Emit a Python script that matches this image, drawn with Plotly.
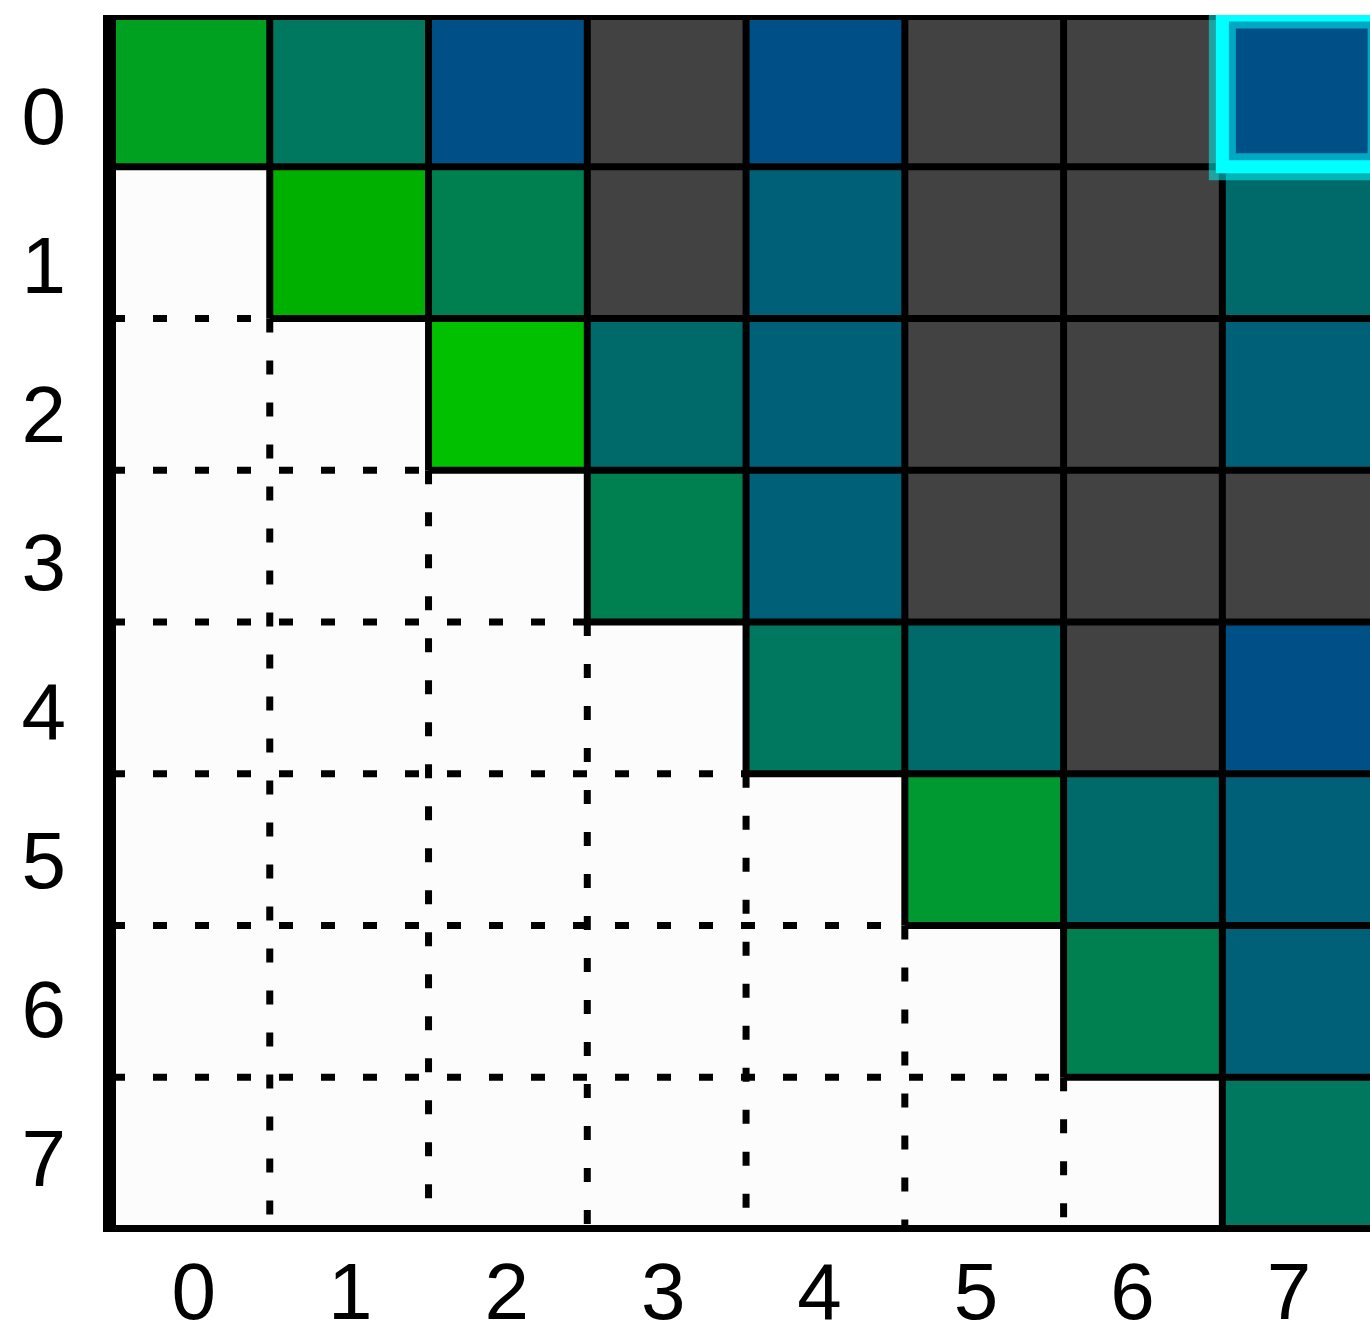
import plotly.graph_objects as go

# ---- data ----
n = 8
row_labels = ["0", "1", "2", "3", "4", "5", "6", "7"]
col_labels = ["0", "1", "2", "3", "4", "5", "6", "7"]

# score per cell (upper triangle); None = lower triangle / masked
scores = [
    [0.25, 0.60, 1.00, None, 1.00, None, None, 1.00],
    [None, 0.10, 0.50, None, 0.85, None, None, 0.75],
    [None, None, 0.00, 0.75, 0.85, None, None, 0.85],
    [None, None, None, 0.50, 0.85, None, None, None],
    [None, None, None, None, 0.60, 0.75, None, 1.00],
    [None, None, None, None, None, 0.32, 0.75, 0.85],
    [None, None, None, None, None, None, 0.50, 0.85],
    [None, None, None, None, None, None, None, 0.60],
]
# masked (dark gray) cells
masked = [
    [0, 0, 0, 1, 0, 1, 1, 0],
    [0, 0, 0, 1, 0, 1, 1, 0],
    [0, 0, 0, 0, 0, 1, 1, 0],
    [0, 0, 0, 0, 0, 1, 1, 1],
    [0, 0, 0, 0, 0, 0, 1, 0],
    [0, 0, 0, 0, 0, 0, 0, 0],
    [0, 0, 0, 0, 0, 0, 0, 0],
    [0, 0, 0, 0, 0, 0, 0, 0],
]
highlight_cell = (0, 7)  # (row, col)

colorscale = [
    [0.00, "#00c000"],
    [0.10, "#00b000"],
    [0.25, "#00a020"],
    [0.32, "#009830"],
    [0.50, "#008050"],
    [0.60, "#007860"],
    [0.75, "#006a6a"],
    [0.85, "#006078"],
    [1.00, "#005088"],
]

xs = list(range(n))
ys = list(range(n))

fig = go.Figure()
fig.add_trace(go.Heatmap(
    z=scores, x=xs, y=ys, colorscale=colorscale, zmin=0, zmax=1,
    showscale=False, hoverongaps=False,
))
mask_z = [[1 if m else None for m in row] for row in masked]
fig.add_trace(go.Heatmap(
    z=mask_z, x=xs, y=ys, colorscale=[[0, "#424242"], [1, "#424242"]],
    showscale=False, hoverongaps=False,
))
# carrier for the tick-label axes
fig.add_trace(go.Scatter(x=[], y=[], xaxis="x2", yaxis="y2",
                         showlegend=False, hoverinfo="skip"))

shapes = []
solid = dict(color="black", width=7)
dashed = dict(color="black", width=7, dash="14px,28px")
# vertical boundaries between column j and j+1
for j in range(n - 1):
    xb = j + 0.5
    shapes.append(dict(type="line", xref="x", yref="y", x0=xb, x1=xb,
                       y0=-0.5, y1=min(j + 1.5, n - 0.5), line=solid))
    if j + 1.5 < n - 0.5:
        shapes.append(dict(type="line", xref="x", yref="y", x0=xb, x1=xb,
                           y0=j + 1.5, y1=n - 0.5, line=dashed))
# horizontal boundaries between row i and i+1
for i in range(n - 1):
    yb = i + 0.5
    shapes.append(dict(type="line", xref="x", yref="y", x0=i - 0.5, x1=n - 0.5,
                       y0=yb, y1=yb, line=solid))
    if i > 0:
        shapes.append(dict(type="line", xref="x", yref="y", x0=-0.5, x1=i - 0.5,
                           y0=yb, y1=yb, line=dashed))
# outer border
shapes.append(dict(type="line", xref="x", yref="y", x0=-0.5, x1=n - 0.5,
                   y0=-0.5, y1=-0.5, line=dict(color="black", width=10)))
shapes.append(dict(type="line", xref="x", yref="y", x0=-0.5, x1=n - 0.5,
                   y0=n - 0.5, y1=n - 0.5, line=dict(color="black", width=8)))
shapes.append(dict(type="line", xref="x", yref="y", x0=-0.5, x1=-0.5,
                   y0=-0.5, y1=n - 0.5, line=dict(color="black", width=10)))
# highlight
hr, hc = highlight_cell
shapes.append(dict(type="rect", xref="x", yref="y", x0=hc - 0.5, x1=hc + 0.5,
                   y0=hr - 0.5, y1=hr + 0.5,
                   line=dict(color="rgba(0,255,255,0.5)", width=27)))
shapes.append(dict(type="rect", xref="x", yref="y", x0=hc - 0.5, x1=hc + 0.5,
                   y0=hr - 0.5, y1=hr + 0.5,
                   line=dict(color="#00ffff", width=13)))

font = dict(family="Liberation Sans, Arial, sans-serif", size=80, color="black")
plain = dict(showgrid=False, zeroline=False)

fig.update_layout(
    width=1370, height=1325,
    margin=dict(l=111, r=0, t=15, b=96),
    paper_bgcolor="white", plot_bgcolor="#fcfcfc",
    shapes=shapes,
    showlegend=False,
    xaxis=dict(range=[-0.5, 7.43], showticklabels=False, ticks="",
               showline=True, linecolor="black", linewidth=3,
               automargin=False, **plain),
    yaxis=dict(range=[n - 0.5, -0.5], showticklabels=False, ticks="",
               showline=True, linecolor="black", linewidth=8,
               automargin=False, **plain),
    xaxis2=dict(overlaying="x", anchor="y", side="bottom",
                range=[-0.529, 7.518], tickvals=xs, ticktext=col_labels,
                ticks="", ticklabelstandoff=9, showline=False,
                automargin=False, tickfont=font, **plain),
    yaxis2=dict(overlaying="y", anchor="x", side="left",
                range=[7.478, -0.677], tickvals=ys, ticktext=row_labels,
                ticks="", ticklabelstandoff=44, showline=False,
                automargin=False, tickfont=font, **plain),
)

fig.write_html("out.html", config={"displayModeBar": False},
               post_script="document.body.style.margin='0';")
